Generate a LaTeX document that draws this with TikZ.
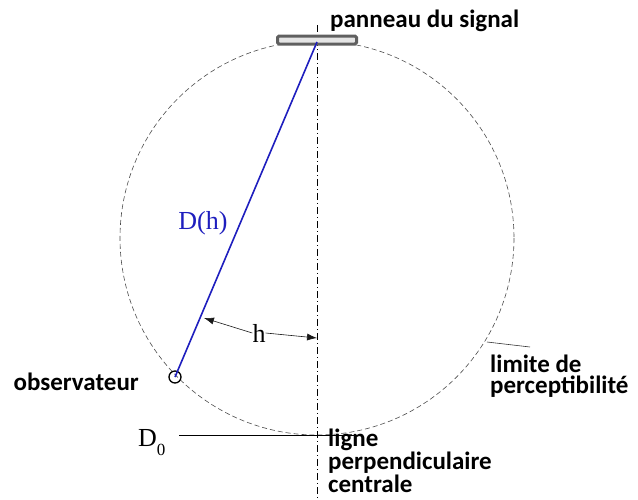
\documentclass[tikz,border=0pt]{standalone}
\usepackage{fontspec}
\usepackage{xcolor}
\setmainfont{Carlito}
\newfontfamily\serif{Liberation Serif}
\usetikzlibrary{positioning,arrows.meta}

\definecolor{dblue}{RGB}{30,30,190}

\begin{document}
\begin{tikzpicture}[
  x=1pt,y=-1pt,
  lbl/.style={font=\fontsize{25}{21}\selectfont\bfseries,inner sep=0pt,anchor=base west,align=left},
  sym/.style={font=\fontsize{26}{28}\selectfont\serif,inner sep=0pt},
  arr/.style={-{Latex[length=3.5mm,width=2.5mm]},semithick,black!90}]
  \useasboundingbox (0,0) rectangle (638,499);
  % limit circle and central line
  \draw[gray!60!black,semithick,dash pattern=on 5pt off 3pt] (317,238) circle[radius=197];
  \draw[black,semithick,dash pattern=on 7pt off 3pt on 1pt off 3pt] (317,25) -- (317,499);
  \node[draw=gray!75!black,fill=gray!20,line width=3pt,rounded corners=1.5pt,
        minimum width=79pt,minimum height=8pt,inner sep=0pt] (panel) at (317,40) {};
  \coordinate (top) at (317,42);
  \node[draw,circle,line width=1.3pt,minimum size=12pt,inner sep=0pt] (obs) at (175,377) {};
  \draw[dblue,line width=1.6pt] (top) -- (obs.center);
  % labels
  \node[lbl] (sig) at (330,27) {panneau du signal};
  \node[lbl,anchor=base east] (obsl) at (139,390) {observateur};
  \node[lbl] (lim) at (490,393) {limite de\\perceptibilité};
  \node[lbl] (lig) at (328,492) {ligne\\perpendiculaire\\centrale};
  \node[sym,text=dblue] (dh) at (203,223) {D(h)};
  \node[sym] (h) at (259,333) {h};
  \node[sym,anchor=base west] (d0) at (138,446) {D\raisebox{-9pt}{\fontsize{17}{17}\selectfont 0}};
  % distance h
  \coordinate (hl) at (204,318);
  \coordinate (hr) at (317,338);
  \draw[arr] (h.west) -- (hl);
  \draw[arr] (h.east) -- (hr);
  % D0 line and limit leader
  \coordinate (d0a) at (179,435);
  \coordinate (d0b) at (358,435);
  \draw[semithick] (d0a) -- (d0b);
  \coordinate (lima) at (487,342);
  \coordinate (limb) at (530,347);
  \draw[semithick,black!80] (lima) -- (limb);
\end{tikzpicture}
\end{document}
